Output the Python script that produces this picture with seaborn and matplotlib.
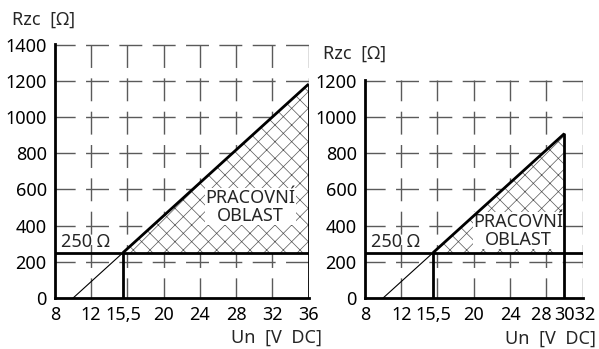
import matplotlib
matplotlib.use('Agg')
import matplotlib.pyplot as plt
import numpy as np
import seaborn as sns

# data
u_min = 10.0          # Un where the limit line crosses 0 ohm
r_min = 250           # minimum load resistance
u_knee = 15.5         # Un at r_min
u_max_left = 36
u_max_right = 30
slope = r_min / (u_knee - u_min)   # ohm per volt

left_xticks = [8, 12, 15.5, 20, 24, 28, 32, 36]
left_xlabels = ['8', '12', '15,5', '20', '24', '28', '32', '36']
left_yticks = [0, 200, 400, 600, 800, 1000, 1200, 1400]
right_xticks = [8, 12, 15.5, 20, 24, 28, 30, 32]
# 28 / 30 / 32 sit close together: padded with spaces to nudge them apart
right_xlabels = ['8', '12', '15,5', '20', '24', '28  ', '30', ' 32']
right_yticks = [0, 200, 400, 600, 800, 1000, 1200]
left_grid_x = [12, 16, 20, 24, 28, 32, 36]
right_grid_x = [12, 16, 20, 24, 28, 32]

sns.set_theme(style='white')
plt.rcParams['font.family'] = ['Noto Sans Condensed', 'Noto Sans', 'DejaVu Sans']
plt.rcParams['font.stretch'] = 'condensed'
plt.rcParams['hatch.linewidth'] = 0.5
plt.rcParams['hatch.color'] = '#555555'

GRID_LS = (2.0, (16.5, 7.5))
GRID_C = '#5a5a5a'
FS = 13


def draw_panel(ax, u_max, xticks, xlabels, yticks, grid_x, text_pos):
    xmax = xticks[-1]
    ymax = yticks[-1]
    ax.set_xlim(8, xmax + 0.05)
    ax.set_ylim(0, ymax + 4)

    ax.tick_params(which='major', direction='out', length=5, width=1.5,
                   color='black', labelsize=FS, pad=1, labelcolor='black')
    ax.set_xticks(xticks)
    ax.set_xticklabels(xlabels)
    ax.set_yticks(yticks)
    ax.grid(False)
    # dashed grid
    for gx in grid_x:
        ax.axvline(gx, color=GRID_C, lw=1.0, linestyle=GRID_LS, zorder=1)
    for gy in yticks[1:]:
        ax.axhline(gy, color=GRID_C, lw=1.0, linestyle=GRID_LS, zorder=1)

    for s in ['top', 'right']:
        ax.spines[s].set_visible(False)
    for s in ['left', 'bottom']:
        ax.spines[s].set_linewidth(2.0)
        ax.spines[s].set_color('black')
        ax.spines[s].set_zorder(5)

    r_top = (u_max - u_min) * slope
    # working area
    ax.fill([u_knee, u_max, u_max], [r_min, r_min, r_top], facecolor='white',
            edgecolor='#555555', lw=0, hatch='xx', zorder=2)
    # thin extension of the limit line
    ax.plot([u_min, u_knee], [0, r_min], color='black', lw=0.8, zorder=3)
    # thick boundaries
    ax.plot([u_knee, u_max], [r_min, r_top], color='black', lw=2.0, zorder=4,
            solid_capstyle='butt')
    ax.plot([8, xmax], [r_min, r_min], color='black', lw=2.0, zorder=4)
    ax.plot([u_knee, u_knee], [0, r_min], color='black', lw=2.0, zorder=4)
    ax.plot([u_max, u_max], [0, r_top], color='black', lw=2.0, zorder=4)

    ax.text(8.7, r_min + 8, '250 \u03a9', fontsize=FS, ha='left', va='bottom', zorder=6)
    ax.text(text_pos[0], text_pos[1], 'PRACOVNÍ\nOBLAST', fontsize=FS,
            ha='center', va='center', linespacing=1.0, zorder=3.5,
            bbox=dict(facecolor='white', edgecolor='none', pad=0.3))


fig = plt.figure(figsize=(5.99, 3.49), dpi=100)
ax1 = fig.add_axes([0.0918, 0.1461, 0.4240, 0.728])
ax2 = fig.add_axes([0.6093, 0.1461, 0.3640, 0.624])

draw_panel(ax1, u_max_left, left_xticks, left_xlabels, left_yticks, left_grid_x, (29.6, 505))
draw_panel(ax2, u_max_right, right_xticks, right_xlabels, right_yticks, right_grid_x, (24.9, 372))

fig.text(0.020, 0.943, 'Rzc  [\u03a9]', fontsize=FS, va='center', ha='left')
fig.text(0.539, 0.845, 'Rzc  [\u03a9]', fontsize=FS, va='center', ha='left')
fig.text(0.537, 0.032, 'Un  [V  DC]', fontsize=FS, va='center', ha='right')
fig.text(0.995, 0.028, 'Un  [V  DC]', fontsize=FS, va='center', ha='right')

fig.savefig('out.png', dpi=100, facecolor='white')
